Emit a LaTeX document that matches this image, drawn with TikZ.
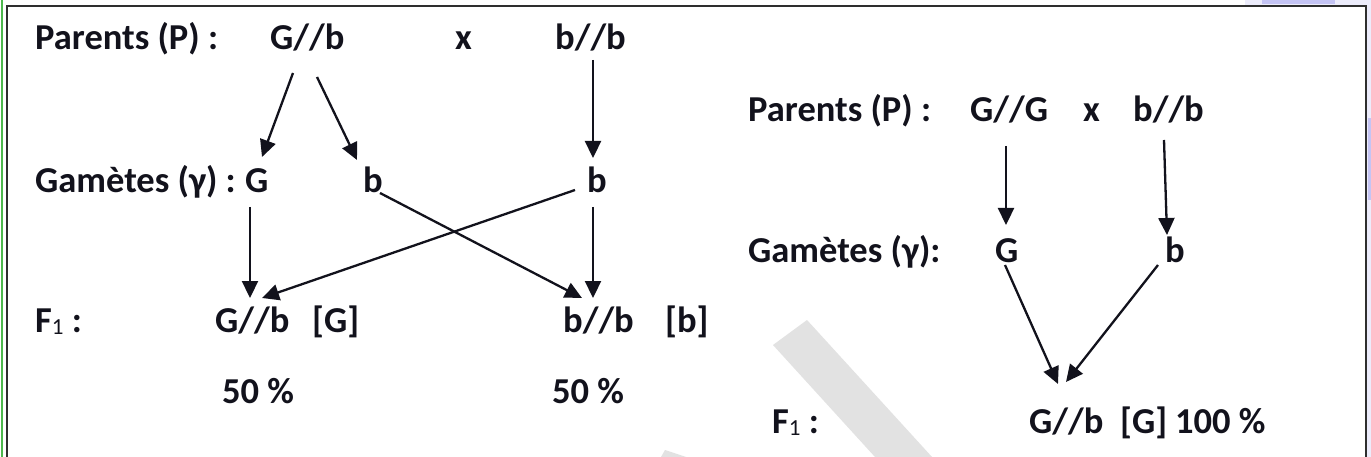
\documentclass[tikz,border=0pt]{standalone}
\usepackage{fontspec}
\setmainfont{Carlito}
\usetikzlibrary{arrows.meta}
\definecolor{ink}{HTML}{12121C}
\definecolor{wm}{HTML}{E2E2E2}
\definecolor{lav}{HTML}{ECECFB}
\definecolor{lavh}{HTML}{C4C4F4}
\definecolor{framec}{HTML}{2E2E2E}
\definecolor{greenl}{HTML}{4DB84D}
\newcommand\Fsub{{\fontsize{23}{23}\selectfont\mdseries\raisebox{-2pt}{1}}}
\begin{document}
\begin{tikzpicture}[x=1pt,y=-1pt,
  txt/.style={anchor=base west, inner sep=0pt, text=ink, font=\fontsize{36.5}{42}\selectfont\bfseries},
  arr/.style={draw=ink, line width=2.3pt, -{Triangle[length=17pt,width=16pt]}}]
\useasboundingbox (0,0) rectangle (1371,457);
\fill[white] (0,0) rectangle (1371,457);
% corner decoration outside the frame
\fill[lav] (1245,0) rectangle (1371,5);
\fill[lavh] (1262,0) rectangle (1335,4);
\fill[lav] (1367,0) rectangle (1371,457);
\fill[lavh] (1368,118) rectangle (1371,200);
% watermark strokes
\fill[wm] (773,345) -- (807,320) -- (932,457) -- (875,457) -- cycle;
\fill[wm] (661,457) -- (665,450) -- (686,457) -- cycle;
% frame
\draw[greenl, line width=2.2pt] (1.6,0) -- (1.6,457);
\draw[framec, line width=2.6pt] (7,470) -- (7,6) -- (1366,6) -- (1366,470);

% ---- left cross ----
\node[txt] (lP) at (35,50) {Parents (P) :};
\node[txt] (PGb) at (270,50) {G//b};
\node[txt] (lx) at (455,50) {x};
\node[txt] (Pbb) at (555,50) {b//b};
\node[txt] (lgam) at (35,193) {Gamètes (γ) :};
\node[txt] (gG) at (245,193) {G};
\node[txt] (gb1) at (363,193) {b};
\node[txt] (gb2) at (587,193) {b};
\node[txt] (lF) at (35,332) {F\Fsub{} :};
\node[txt] (FGb) at (215,332) {G//b};
\node[txt] (FGph) at (312,332) {[G]};
\node[txt] (Fbb) at (563,332) {b//b};
\node[txt] (Fbph) at (665,332) {[b]};
\node[txt] (p1) at (222,403) {50 \%};
\node[txt] (p2) at (552,403) {50 \%};

\draw[arr] ([shift={(23,23)}]PGb.base west) -- ([shift={(17,-36)}]gG.base west);
\draw[arr] ([shift={(47,27)}]PGb.base west) -- ([shift={(-6,-33)}]gb1.base west);
\draw[arr] ([shift={(38,10)}]Pbb.base west) -- ([shift={(6,-35)}]gb2.base west);
\draw[arr] ([shift={(5,14)}]gG.base west) -- ([shift={(35,-34)}]FGb.base west);
\draw[arr] ([shift={(-12,-3)}]gb2.base west) -- ([shift={(47,-34)}]FGb.base west);
\draw[arr] ([shift={(17,0)}]gb1.base west) -- ([shift={(19,-34)}]Fbb.base west);
\draw[arr] ([shift={(6,14)}]gb2.base west) -- ([shift={(30,-34)}]Fbb.base west);

% ---- right cross ----
\node[txt] (rP) at (748,122) {Parents (P) :};
\node[txt] (RGG) at (970,122) {G//G};
\node[txt] (rx) at (1083,122) {x};
\node[txt] (Rbb) at (1133,122) {b//b};
\node[txt] (rgam) at (748,262) {Gamètes (γ):};
\node[txt] (RgG) at (995,262) {G};
\node[txt] (Rgb) at (1165,262) {b};
\node[txt] (rF) at (772,433) {F\Fsub{} :};
\node[txt] (RF) at (1029,433) {G//b};
\node[txt] (RFph) at (1120,433) {[G]};
\node[txt] (Rpc) at (1175,433) {100 \%};

\draw[arr] ([shift={(36,24)}]RGG.base west) -- ([shift={(11,-37)}]RgG.base west);
\draw[arr] ([shift={(31,18)}]Rbb.base west) -- ([shift={(2,-27)}]Rgb.base west);
\draw[arr] ([shift={(10,3)}]RgG.base west) -- ([shift={(29,-49)}]RF.base west);
\draw[arr] ([shift={(-7,3)}]Rgb.base west) -- ([shift={(37,-51)}]RF.base west);
\end{tikzpicture}
\end{document}
